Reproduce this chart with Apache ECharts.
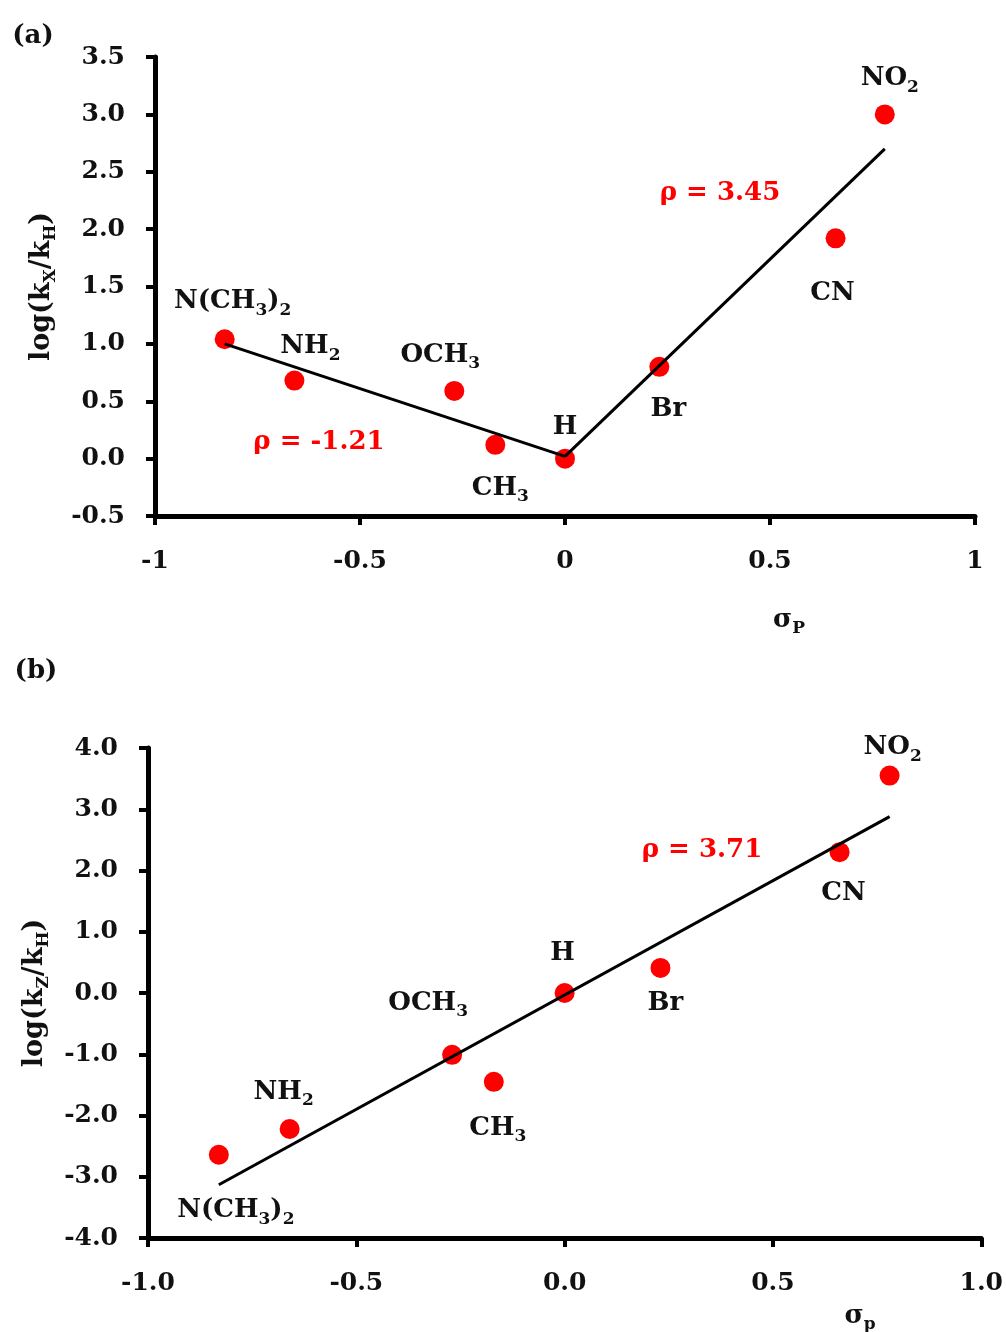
<!DOCTYPE html>
<html>
<head>
<meta charset="utf-8">
<script src="https://cdn.jsdelivr.net/npm/echarts@6/dist/echarts.min.js"></script>
<style>
html,body{margin:0;padding:0;background:#fff;}
#chart{width:1006px;height:1332px;}
</style>
</head>
<body>
<div id="chart"></div>
<script>
// ---------- data ----------
const substituents = ['N(CH3)2', 'NH2', 'OCH3', 'CH3', 'H', 'Br', 'CN', 'NO2'];
const substituentLabels = ['N(CH{s|3}){s|2}', 'NH{s|2}', 'OCH{s|3}', 'CH{s|3}', 'H', 'Br', 'CN', 'NO{s|2}'];
const sigmaP = [-0.83, -0.66, -0.27, -0.17, 0.00, 0.23, 0.66, 0.78];
const logKxKh = [1.04, 0.68, 0.59, 0.12, 0.00, 0.80, 1.92, 3.00];
const logKzKh = [-2.64, -2.22, -1.01, -1.45, 0.00, 0.41, 2.30, 3.55];
const fitA1 = [[-0.83, 1.00], [0.00, 0.02]];
const fitA2 = [[0.00, 0.02], [0.78, 2.70]];
const fitB = [[-0.83, -3.13], [0.78, 2.88]];
const rhoTexts = ['ρ = 3.45', 'ρ = -1.21', 'ρ = 3.71'];

// ---------- layout (label offsets in px) ----------
const offA = [[8, -38], [16, -34], [-14, -36], [5, 43], [0, -31], [9, 42], [-3, 55], [5, -36]];
const offB = [[17, 56], [-6, -37], [-24, -52], [4, 46], [-2, -40], [5, 35], [4, 41], [3, -28]];

const FONT = '"DejaVu Serif", "Liberation Serif", serif';
const RED = '#ff0000';
const richSub = {
  s: { fontSize: 17, fontWeight: 'bold', fontFamily: FONT, color: '#111', padding: [18, 0, 0, 0] }
};
function points(xs, ys, offs) {
  return xs.map((x, i) => ({
    value: [x, ys[i]],
    name: substituents[i],
    label: { offset: offs[i], formatter: substituentLabels[i] }
  }));
}
const axisLineStyle = { color: '#000', width: 5 };
function xAxis(gridIndex, fmt) {
  return {
    type: 'value', gridIndex, min: -1, max: 1, interval: 0.5,
    axisLine: { onZero: false, lineStyle: axisLineStyle },
    axisTick: { length: 9, lineStyle: { color: '#000', width: 4 } },
    splitLine: { show: false },
    axisLabel: { margin: 33, color: '#111', fontSize: 25, fontWeight: 'bold', fontFamily: FONT, formatter: fmt }
  };
}
function yAxis(gridIndex, min, max, interval, nameText) {
  return {
    type: 'value', gridIndex, min, max, interval,
    axisLine: { onZero: false, lineStyle: axisLineStyle },
    axisTick: { length: 9, lineStyle: { color: '#000', width: 4 } },
    splitLine: { show: false },
    axisLabel: { margin: 30, color: '#111', fontSize: 25, fontWeight: 'bold', fontFamily: FONT, formatter: v => v.toFixed(1) },
    name: nameText, nameLocation: 'middle', nameRotate: 90, nameGap: 96,
    nameTextStyle: { color: '#111', fontSize: 27, fontWeight: 'bold', fontFamily: FONT, rich: richSub }
  };
}
const pointLabel = {
  show: true, position: 'inside', color: '#111', fontSize: 26, fontWeight: 'bold', fontFamily: FONT, rich: richSub
};
const chart = echarts.init(document.getElementById('chart'));
chart.setOption({
  backgroundColor: '#fff',
  animation: false,
  grid: [
    { left: 155, right: 31, top: 57, height: 459 },
    { left: 148, right: 24, top: 748, height: 490 }
  ],
  xAxis: [xAxis(0, v => String(v)), xAxis(1, v => v.toFixed(1))],
  yAxis: [
    yAxis(0, -0.5, 3.5, 0.5, 'log(k{s|X}/k{s|H})'),
    yAxis(1, -4, 4, 1, 'log(k{s|Z}/k{s|H})')
  ],
  series: [
    { type: 'scatter', xAxisIndex: 0, yAxisIndex: 0, symbolSize: 20, itemStyle: { color: RED, opacity: 1 }, label: pointLabel, z: 2, data: points(sigmaP, logKxKh, offA) },
    { type: 'scatter', xAxisIndex: 1, yAxisIndex: 1, symbolSize: 20, itemStyle: { color: RED, opacity: 1 }, label: pointLabel, z: 2, data: points(sigmaP, logKzKh, offB) },
    { type: 'line', xAxisIndex: 0, yAxisIndex: 0, data: fitA1, symbol: 'none', lineStyle: { color: '#000', width: 3 }, z: 5 },
    { type: 'line', xAxisIndex: 0, yAxisIndex: 0, data: fitA2, symbol: 'none', lineStyle: { color: '#000', width: 3 }, z: 5 },
    { type: 'line', xAxisIndex: 1, yAxisIndex: 1, data: fitB, symbol: 'none', lineStyle: { color: '#000', width: 3 }, z: 5 }
  ],
  graphic: [
    { type: 'text', x: 33, y: 36, style: { text: '(a)', fill: '#111', fontSize: 26, fontWeight: 'bold', fontFamily: FONT, align: 'center', verticalAlign: 'middle' } },
    { type: 'text', x: 36, y: 671, style: { text: '(b)', fill: '#111', fontSize: 26, fontWeight: 'bold', fontFamily: FONT, align: 'center', verticalAlign: 'middle' } },
    { type: 'text', x: 720, y: 193, style: { text: rhoTexts[0], fill: RED, fontSize: 26, fontWeight: 'bold', fontFamily: FONT, align: 'center', verticalAlign: 'middle' } },
    { type: 'text', x: 319, y: 442, style: { text: rhoTexts[1], fill: RED, fontSize: 26, fontWeight: 'bold', fontFamily: FONT, align: 'center', verticalAlign: 'middle' } },
    { type: 'text', x: 702, y: 850, style: { text: rhoTexts[2], fill: RED, fontSize: 26, fontWeight: 'bold', fontFamily: FONT, align: 'center', verticalAlign: 'middle' } },
    { type: 'text', x: 789, y: 620, style: { text: 'σ{s|P}', fill: '#111', fontSize: 26, fontWeight: 'bold', fontFamily: FONT, align: 'center', verticalAlign: 'middle', rich: richSub } },
    { type: 'text', x: 860, y: 1316, style: { text: 'σ{s|p}', fill: '#111', fontSize: 26, fontWeight: 'bold', fontFamily: FONT, align: 'center', verticalAlign: 'middle', rich: richSub } }
  ]
});
</script>
</body>
</html>
